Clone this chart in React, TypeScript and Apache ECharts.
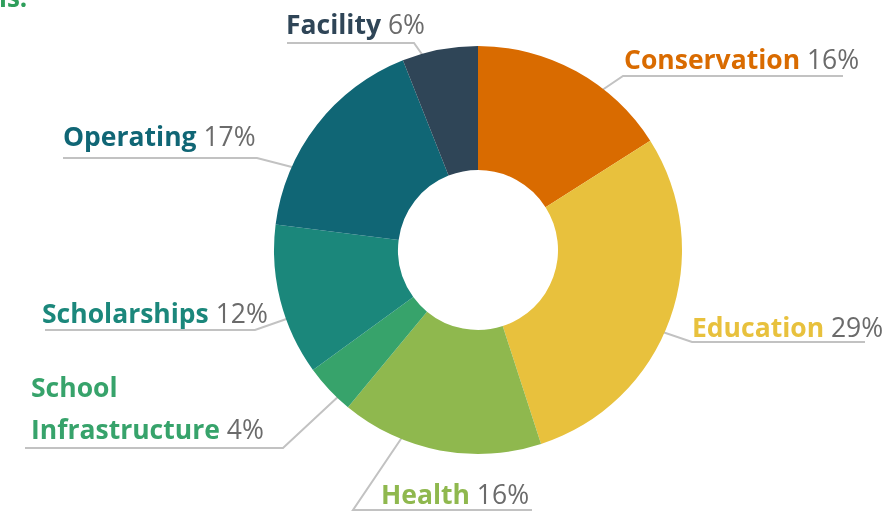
import React, { useEffect, useRef } from 'react';
import * as echarts from 'echarts';

// ---- data ----
const categories = ['Conservation', 'Education', 'Health', 'School Infrastructure', 'Scholarships', 'Operating', 'Facility'];
const shares = [16, 29, 16, 4, 12, 17, 6];
const labelNames = ['Conservation', 'Education', 'Health', 'School\nInfrastructure', 'Scholarships', 'Operating', 'Facility'];
const sliceColors = ['#d96b00', '#e8c13d', '#8fb84e', '#37a36b', '#1b877b', '#106675', '#2f4557'];

// ---- layout (label placement and guide lines) ----
const CENTER = [478, 250];
const RADIUS = [80, 204];
const FS = 26.5;
const LH = 42;
// tx: text left, base: text baseline, uy: underline y, bx: bend x, ex: underline end x, ax/ay: guide start
const labelSpots = [
  { tx: 624, base: 68, uy: 76, bx: 623, ex: 843, ax: 586, ay: 101 },
  { tx: 692, base: 336, uy: 342, bx: 692, ex: 865, ax: 642, ay: 325 },
  { tx: 381, base: 503, uy: 510, bx: 353, ex: 532, ax: 407, ay: 430 },
  { tx: 31, base: 438, uy: 448, bx: 283, ex: 25, ax: 341, ay: 394 },
  { tx: 42, base: 322, uy: 330, bx: 255, ex: 45, ax: 295, ay: 316 },
  { tx: 63, base: 145, uy: 158, bx: 257, ex: 63, ax: 319, ay: 174 },
  { tx: 286, base: 33, uy: 43, bx: 414, ex: 287, ax: 433, ay: 70 },
];

export default function App() {
  const ref = useRef<HTMLDivElement>(null);
  useEffect(() => {
    if (!ref.current) return;
    const chart = echarts.init(ref.current, null, { renderer: 'svg' });
    const data = categories.map((c, i) => ({
      name: c,
      value: shares[i],
      itemStyle: { color: sliceColors[i] },
      label: {
        formatter: () => {
          const parts = labelNames[i].split('\n');
          const last = parts.pop();
          const head = parts.map((p) => `{n|${p}}`).join('\n');
          return (head ? head + '\n' : '') + `{n|${last}}{p| ${shares[i]}%}`;
        },
        rich: {
          n: { color: sliceColors[i], fontWeight: 'bold', fontSize: FS, fontFamily: 'Open Sans', lineHeight: LH },
          p: { color: '#6b6b6b', fontWeight: 'normal', fontSize: FS, fontFamily: 'Open Sans', lineHeight: LH },
        },
      },
    }));
    chart.setOption({
      animation: false,
      graphic: [
        {
          type: 'text',
          left: -1,
          top: -16,
          style: { text: 'ls.', fill: '#2e9e5b', font: 'bold 26px "Open Sans"' },
        },
      ],
      series: [
        {
          type: 'pie',
          center: CENTER,
          radius: RADIUS,
          startAngle: 90,
          clockwise: true,
          avoidLabelOverlap: false,
          data,
          label: { show: true, position: 'outside' },
          labelLine: { show: true, length: 10, length2: 10, lineStyle: { color: '#c2c2c2', width: 2 } },
          emphasis: { disabled: true },
          labelLayout: (p: any) => {
            const s = labelSpots[p.dataIndex];
            return {
              x: s.tx,
              y: s.base + 12,
              align: 'left',
              verticalAlign: 'bottom',
              labelLinePoints: [
                [s.ax, s.ay],
                [s.bx, s.uy],
                [s.ex, s.uy],
              ],
            };
          },
        },
      ],
    });
    return () => chart.dispose();
  }, []);
  return <div ref={ref} style={{ position: 'fixed', left: 0, top: 0, width: 895, height: 511 }} />;
}
